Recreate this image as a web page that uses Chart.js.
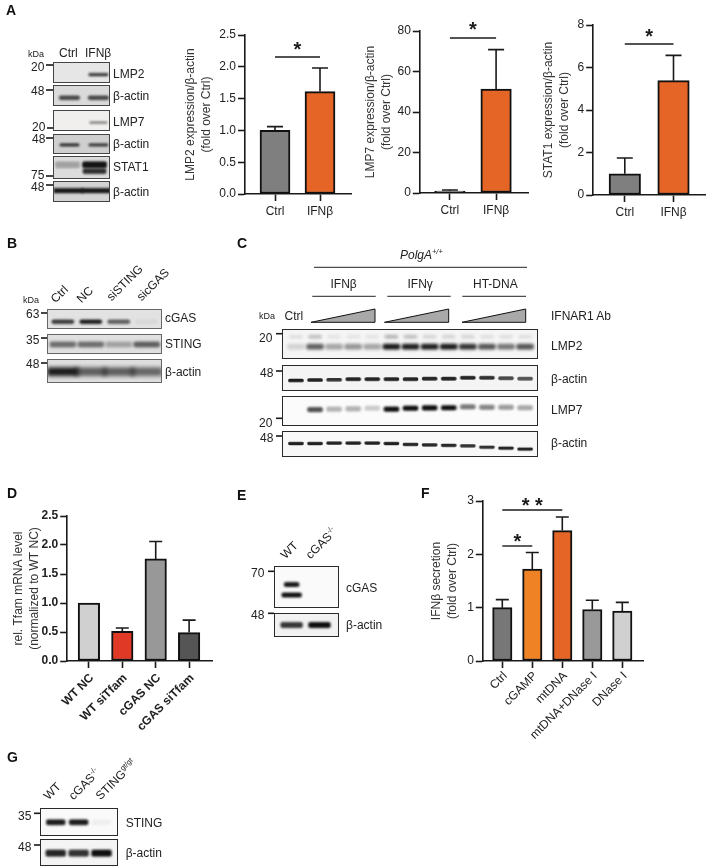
<!DOCTYPE html>
<html>
<head>
<meta charset="utf-8">
<title>Figure</title>
<script src="https://cdn.jsdelivr.net/npm/chart.js@4"></script>
<style>
  html, body { margin: 0; padding: 0; background: #fff; }
  #page { position: relative; width: 709px; height: 868px; overflow: hidden; font-family: "Liberation Sans", Arial, sans-serif; color: #222; filter: blur(0.3px); }
  #page canvas { position: absolute; display: block; }
  #page svg { position: absolute; left: 0; top: 0; }
  .t { position: absolute; white-space: nowrap; line-height: 1; transform: translateY(-50%); }
  .rot { position: absolute; white-space: nowrap; line-height: 1; transform-origin: 0 100%; transform: rotate(-45deg); }
  .blot { box-sizing: border-box; border: 1.4px solid #2a2a2a; }
  sup { font-size: 0.62em; line-height: 0; }
</style>
</head>
<body>
<div id="page"></div>
<script>
// ---- bar chart data ----
const ctrlVsIfn = ['Ctrl', 'IFNβ'];

const lmp2Values = [1.0, 1.61];
const lmp2Errors = [1.06, 1.98];
const lmp2Ticks = [0, 0.5, 1, 1.5, 2, 2.5];
const lmp2Sig = [[0, 1, 2.16, '*']];

const lmp7Values = [1.0, 51.3];
const lmp7Errors = [1.5, 70.8];
const lmp7Ticks = [0, 20, 40, 60, 80];
const lmp7Sig = [[0, 1, 76.6, '*']];

const stat1Values = [1.0, 5.38];
const stat1Errors = [1.74, 6.57];
const stat1Ticks = [0, 2, 4, 6, 8];
const stat1Sig = [[0, 1, 7.12, '*']];

const tfamLabels = ['WT NC', 'WT siTfam', 'cGAS NC', 'cGAS siTfam'];
const tfamValues = [1.0, 0.51, 1.76, 0.49];
const tfamErrors = [1.0, 0.57, 2.06, 0.705];
const tfamTicks = [0, 0.5, 1, 1.5, 2, 2.5];
const tfamColors = ['#d0d0d0', '#e03a27', '#989898', '#555555'];

const ifnLabels = ['Ctrl', 'cGAMP', 'mtDNA', 'mtDNA+DNase I', 'DNase I'];
const ifnValues = [1.0, 1.725, 2.445, 0.965, 0.935];
const ifnErrors = [1.15, 2.035, 2.70, 1.14, 1.10];
const ifnTicks = [0, 1, 2, 3];
const ifnSig = [[0, 1, 2.16, '*'], [0, 2, 2.84, '* *']];
const ifnColors = ['#777777', '#ef8225', '#e56526', '#999999', '#d0d0d0'];

const pairColors = ['#7f7f7f', '#e56526'];

// ---- blot band darkness per lane (0 = nothing, 1 = black) ----
const aLmp2 = [0, 0.8];
const aActin1 = [0.72, 0.72];
const aLmp7 = [0, 0.45];
const aActin2 = [0.72, 0.68];
const aStat1Upper = [0.28, 0.98];
const aStat1Lower = [0, 0.85];
const aActin3 = [0.95, 0.95];

const bCgas = [0.78, 0.92, 0.62, 0.05];
const bSting = [0.55, 0.55, 0.3, 0.62];
const bActin = [0.95, 0.62, 0.62, 0.58];

const cLmp2 = [0.15, 0.65, 0.35, 0.42, 0.35, 0.98, 0.95, 0.95, 0.97, 0.85, 0.7, 0.55, 0.7];
const cLmp2Upper = [0.1, 0.25, 0.08, 0.08, 0.08, 0.3, 0.25, 0.15, 0.15, 0.15, 0.1, 0.1, 0.1];
const cActin1 = [0.95, 0.92, 0.85, 0.9, 0.9, 0.9, 0.9, 0.9, 0.92, 0.9, 0.85, 0.75, 0.7];
const cActin1Drift = [1.5, 1, 0.7, 0, 0, 0, 0, -0.5, -0.5, -1.5, -1.5, -1, -0.5];
const cLmp7 = [0, 0.72, 0.3, 0.3, 0.2, 1, 1, 1, 1, 0.55, 0.5, 0.4, 0.35];
const cLmp7Drift = [0, 1.5, 1, 0.7, 0, 1, 0, -0.3, -0.5, -1.5, -1, -1, -0.5];
const cActin2 = [0.92, 0.92, 0.92, 0.92, 0.92, 0.92, 0.9, 0.9, 0.9, 0.85, 0.85, 0.9, 0.9];
const cActin2Drift = [-1, -1, -1.5, -1.5, -1.5, -1, 0, 0.5, 1, 1.5, 3, 4, 5];

const eCgasUpper = [0.95, 0];
const eCgasLower = [0.98, 0];
const eActin = [0.82, 1];

const gSting = [0.95, 0.95, 0.05];
const gActin = [0.9, 0.85, 1];

// ---- plugins ----
const errorBars = {
  id: 'errorBars',
  afterDatasetsDraw(chart, args, opts) {
    const { ctx, scales } = chart;
    ctx.save();
    ctx.strokeStyle = '#1a1a1a';
    ctx.lineWidth = 1.6;
    opts.tops.forEach((top, i) => {
      const x = scales.x.getPixelForValue(i);
      const y0 = scales.y.getPixelForValue(opts.values[i]);
      const y1 = scales.y.getPixelForValue(top);
      if (top <= opts.values[i]) return;
      ctx.beginPath();
      ctx.moveTo(x, y0); ctx.lineTo(x, y1);
      ctx.moveTo(x - opts.cap, y1); ctx.lineTo(x + opts.cap, y1);
      ctx.stroke();
    });
    ctx.restore();
  }
};

const sigBrackets = {
  id: 'sigBrackets',
  afterDraw(chart, args, opts) {
    const { ctx, scales } = chart;
    (opts.items || []).forEach(([from, to, value, stars]) => {
      const x0 = scales.x.getPixelForValue(from);
      const x1 = scales.x.getPixelForValue(to);
      const y = Math.round(scales.y.getPixelForValue(value));
      ctx.save();
      ctx.strokeStyle = '#1a1a1a';
      ctx.lineWidth = 1.4;
      ctx.beginPath(); ctx.moveTo(x0, y); ctx.lineTo(x1, y); ctx.stroke();
      ctx.fillStyle = '#1a1a1a';
      ctx.font = 'bold 20px "Liberation Sans"';
      ctx.textAlign = 'center';
      ctx.textBaseline = 'alphabetic';
      ctx.fillText(stars, (x0 + x1) / 2, y - opts.gap + 10);
      ctx.restore();
    });
  }
};

const softBands = {
  id: 'softBands',
  beforeDatasetsDraw(chart, args, opts) { chart.ctx.save(); chart.ctx.filter = `blur(${opts.blur}px)`; },
  afterDatasetsDraw(chart) { chart.ctx.restore(); }
};

// ---- helpers ----
const page = document.getElementById('page');
const FONT = '"Liberation Sans", Arial, sans-serif';

function text(str, x, y, size, extra) {
  const el = document.createElement('div');
  el.className = 't';
  el.innerHTML = str;
  el.style.left = x + 'px';
  el.style.top = y + 'px';
  el.style.fontSize = size + 'px';
  Object.assign(el.style, extra || {});
  page.appendChild(el);
}

function slanted(str, x, y, size) {
  const el = document.createElement('div');
  el.className = 'rot';
  el.innerHTML = str;
  el.style.left = x + 'px';
  el.style.bottom = (868 - y) + 'px';
  el.style.fontSize = size + 'px';
  page.appendChild(el);
}

function barPanel(c) {
  const lh = 16, pad = 14;
  const left = c.titleX - lh / 2, top = c.yTop - pad;
  const W = c.axisEnd - left + 2, H = c.yBottom - top + c.xH;
  const cv = document.createElement('canvas');
  cv.width = W; cv.height = H;
  cv.style.left = left + 'px'; cv.style.top = top + 'px';
  page.appendChild(cv);
  const step = (c.c1 - c.c0) / (c.labels.length - 1);
  const tickFont = { family: FONT, size: 12, weight: c.bold ? 'bold' : 'normal' };
  new Chart(cv, {
    type: 'bar',
    data: {
      datasets: [{
        data: c.values.map((v, i) => ({ x: i, y: v })),
        backgroundColor: c.colors,
        borderColor: '#111',
        borderWidth: 2,
        borderSkipped: false,
        barThickness: c.barW,
        clip: false
      }]
    },
    plugins: [errorBars, sigBrackets],
    options: {
      responsive: false,
      animation: false,
      layout: { padding: { top: pad, right: 2, left: 0, bottom: 0 } },
      plugins: {
        legend: { display: false },
        tooltip: { enabled: false },
        errorBars: { tops: c.errors, values: c.values, cap: c.cap },
        sigBrackets: { items: c.sig || [], gap: c.starGap }
      },
      scales: {
        x: {
          type: 'linear',
          offset: false,
          min: -(c.c0 - c.axisX) / step,
          max: (c.axisEnd - c.c0) / step,
          afterBuildTicks(s) { s.ticks = c.labels.map((_, i) => ({ value: i })); },
          afterFit(s) { s.height = c.xH; s.paddingLeft = 0; s.paddingRight = 0; },
          border: { display: true, color: '#1a1a1a', width: 1.6 },
          grid: { display: true, offset: false, drawOnChartArea: false, drawTicks: true, tickLength: 7, tickWidth: 1.6, tickColor: '#1a1a1a' },
          ticks: {
            autoSkip: false,
            color: '#222',
            font: { family: FONT, size: 12, weight: c.bold ? 'bold' : 'normal' },
            padding: c.xPad === undefined ? 3 : c.xPad,
            labelOffset: c.rot ? 3 : 0,
            minRotation: c.rot || 0,
            maxRotation: c.rot || 0,
            callback: v => c.labels[v]
          }
        },
        y: {
          min: c.ticks[0],
          max: c.ticks[c.ticks.length - 1],
          afterBuildTicks(s) { s.ticks = c.ticks.map(v => ({ value: v })); },
          afterFit(s) { s.width = c.axisX - left; s.paddingTop = 0; s.paddingBottom = 0; },
          border: { display: true, color: '#1a1a1a', width: 1.6 },
          grid: { display: true, drawOnChartArea: false, drawTicks: true, tickLength: 6.5, tickWidth: 1.6, tickColor: '#1a1a1a' },
          ticks: { color: '#222', font: tickFont, padding: 2, callback: v => v.toFixed(c.decimals) },
          title: {
            display: true,
            text: c.title,
            color: '#333',
            padding: 0,
            font: { family: FONT, size: 12, lineHeight: lh / 12 }
          }
        }
      }
    }
  });
}

// a blot is a small bar chart: lanes on x, migration (px from the top of the membrane) on y
function blot(b) {
  const W = b.x1 - b.x0, H = b.y1 - b.y0;
  const cv = document.createElement('canvas');
  cv.className = 'blot';
  cv.width = W; cv.height = H;
  cv.style.left = b.x0 + 'px'; cv.style.top = b.y0 + 'px';
  cv.style.width = W + 'px'; cv.style.height = H + 'px';
  cv.style.background = b.bg;
  if (b.edge) cv.style.borderColor = b.edge;
  page.appendChild(cv);
  const n = b.bands[0].lanes.length;
  const step = (b.c1 - b.c0) / (n - 1);
  new Chart(cv, {
    type: 'bar',
    data: {
      datasets: b.bands.map(k => ({
        grouped: false,
        data: k.lanes.map((v, i) => {
          const y = k.y + (k.drift ? k.drift[i] : 0);
          return { x: i, y: [y - k.h / 2, y + k.h / 2] };
        }),
        backgroundColor: k.lanes.map(v => `rgba(15,15,15,${v})`),
        barThickness: k.w,
        borderRadius: k.r === undefined ? 2 : k.r,
        borderSkipped: false
      }))
    },
    plugins: [softBands],
    options: {
      responsive: false,
      animation: false,
      events: [],
      plugins: { legend: { display: false }, tooltip: { enabled: false }, softBands: { blur: b.blur || 1 } },
      scales: {
        x: { type: 'linear', offset: false, grid: { offset: false }, display: false, min: (b.x0 - b.c0) / step, max: (b.x1 - b.c0) / step },
        y: { display: false, reverse: true, min: 0, max: H }
      }
    }
  });
}

function weight(label, right, yText, tx0, tx1, yTick) {
  text(label, right - 14, yText, 12);
  const s = document.createElementNS('http://www.w3.org/2000/svg', 'rect');
  s.setAttribute('x', tx0); s.setAttribute('y', yTick - 0.8);
  s.setAttribute('width', tx1 - tx0); s.setAttribute('height', 1.6);
  s.setAttribute('fill', '#1a1a1a');
  overlay.appendChild(s);
}

function rule(x0, x1, y) {
  const s = document.createElementNS('http://www.w3.org/2000/svg', 'line');
  s.setAttribute('x1', x0); s.setAttribute('x2', x1); s.setAttribute('y1', y); s.setAttribute('y2', y);
  s.setAttribute('stroke', '#222'); s.setAttribute('stroke-width', 1);
  overlay.appendChild(s);
}

function wedge(x0, x1, y0, y1) {
  const s = document.createElementNS('http://www.w3.org/2000/svg', 'polygon');
  s.setAttribute('points', `${x0},${y1} ${x1},${y0} ${x1},${y1}`);
  s.setAttribute('fill', '#a9a9a9'); s.setAttribute('stroke', '#111'); s.setAttribute('stroke-width', 1);
  overlay.appendChild(s);
}

const overlay = document.createElementNS('http://www.w3.org/2000/svg', 'svg');
overlay.setAttribute('width', 709); overlay.setAttribute('height', 868);
page.appendChild(overlay);

// ---- panel letters ----
[['A', 6, 10], ['B', 7, 243], ['C', 237, 243], ['D', 7, 493], ['E', 237, 495], ['F', 421, 493], ['G', 7, 757]]
  .forEach(([l, x, y]) => text(l, x, y, 14, { fontWeight: 'bold', color: '#111' }));

// ---- panel A ----
text('kDa', 28, 54, 9);
text('Ctrl', 59, 53, 12);
text('IFNβ', 85, 53, 12);
blot({ x0: 53, x1: 110, y0: 62, y1: 82.5, bg: '#e6e6e6', edge: '#444', c0: 69, c1: 99, bands: [{ lanes: aLmp2, y: 12.5, h: 3, w: 20 }] });
blot({ x0: 53, x1: 110, y0: 85, y1: 106, bg: '#dadada', edge: '#444', c0: 69, c1: 99, bands: [{ lanes: aActin1, y: 13, h: 4.5, w: 21 }] });
blot({ x0: 53, x1: 110, y0: 109.5, y1: 131, bg: '#f1efed', edge: '#444', c0: 69, c1: 99, bands: [{ lanes: aLmp7, y: 13, h: 2.5, w: 18 }] });
blot({ x0: 53, x1: 110, y0: 134, y1: 154, bg: '#cfcfcf', edge: '#444', c0: 69, c1: 99, bands: [{ lanes: aActin2, y: 11, h: 3.5, w: 20 }] });
blot({ x0: 53, x1: 110, y0: 156, y1: 179, bg: '#dcdcdc', edge: '#444', c0: 67, c1: 95, bands: [{ lanes: aStat1Upper, y: 8.5, h: 7, w: 25 }, { lanes: aStat1Lower, y: 15.5, h: 5.5, w: 24 }] });
blot({ x0: 53, x1: 110, y0: 181, y1: 202, bg: '#d4d4d4', edge: '#444', c0: 68, c1: 97, bands: [{ lanes: aActin3, y: 9.5, h: 5, w: 30, r: 0 }] });
[['LMP2', 74], ['β-actin', 96], ['LMP7', 122], ['β-actin', 144], ['STAT1', 167], ['β-actin', 192]]
  .forEach(([l, y]) => text(l, 113, y, 12));
[['20', 45, 67, 46, 53, 65], ['48', 45, 91, 46, 53, 90], ['20', 46, 127, 47, 53, 128], ['48', 46, 139, 46, 53, 138], ['75', 45, 175, 46, 53, 176], ['48', 45, 187, 46, 53, 185]]
  .forEach(w => weight(...w));

barPanel({ labels: ctrlVsIfn, values: lmp2Values, errors: lmp2Errors, ticks: lmp2Ticks, sig: lmp2Sig, colors: pairColors, decimals: 1,
  title: ['LMP2 expression/β-actin', '(fold over Ctrl)'], titleX: 191, axisX: 244.5, axisEnd: 351, yTop: 34.7, yBottom: 194.3, xH: 26, c0: 275, c1: 320, barW: 30, cap: 8, starGap: 10.6 });
barPanel({ labels: ctrlVsIfn, values: lmp7Values, errors: lmp7Errors, ticks: lmp7Ticks, sig: lmp7Sig, colors: pairColors, decimals: 0,
  title: ['LMP7 expression/β-actin', '(fold over Ctrl)'], titleX: 370.7, axisX: 419, axisEnd: 528, yTop: 31.3, yBottom: 194, xH: 26, c0: 449.7, c1: 496, barW: 30.5, cap: 8, starGap: 11.6 });
barPanel({ labels: ctrlVsIfn, values: stat1Values, errors: stat1Errors, ticks: stat1Ticks, sig: stat1Sig, colors: pairColors, decimals: 0,
  title: ['STAT1 expression/β-actin', '(fold over Ctrl)'], titleX: 549, axisX: 592.7, axisEnd: 705, yTop: 24.7, yBottom: 194.7, xH: 26, c0: 624.8, c1: 673.5, barW: 31.5, cap: 8, starGap: 11.3 });

// ---- panel B ----
text('kDa', 23, 300, 9);
[['Ctrl', 57, 305], ['NC', 83, 305], ['siSTING', 113, 303], ['sicGAS', 143, 303]].forEach(([l, x, y]) => slanted(l, x, y, 12));
blot({ x0: 47, x1: 161.5, y0: 309, y1: 329, bg: '#e2e2e2', edge: '#666', c0: 62, c1: 147, bands: [{ lanes: bCgas, y: 13, h: 4.5, w: 22 }] });
blot({ x0: 47, x1: 161.5, y0: 333.5, y1: 353.5, bg: '#e0e0e0', edge: '#666', blur: 1.5, c0: 62, c1: 147, bands: [{ lanes: bSting, y: 10.5, h: 6, w: 26 }] });
blot({ x0: 47, x1: 161.5, y0: 358.5, y1: 383, bg: '#dedede', edge: '#666', blur: 2, c0: 62, c1: 147, bands: [{ lanes: bActin, y: 13, h: 9, w: 31, r: 0 }] });
[['cGAS', 318], ['STING', 344], ['β-actin', 372]].forEach(([l, y]) => text(l, 165, y, 12));
[['63', 40, 314, 41, 47, 313], ['35', 40, 340, 41, 47, 338], ['48', 40, 364, 41, 47, 363]].forEach(w => weight(...w));

// ---- panel C ----
text('PolgA<sup>+/+</sup>', 400, 255, 12, { fontStyle: 'italic' });
rule(314, 527, 267.3);
text('IFNβ', 330.5, 284, 12);
text('IFNγ', 407.5, 284, 12);
text('HT-DNA', 473, 284, 12);
rule(312.3, 375.7, 296.3);
rule(387.3, 450.7, 296.3);
rule(462.3, 526, 296.3);
wedge(311, 375, 309, 322.3);
wedge(384.5, 448.7, 309, 322.3);
wedge(462, 525.7, 309, 322.3);
text('kDa', 259, 316, 9);
text('Ctrl', 284.5, 316, 12);
text('IFNAR1 Ab', 551, 316, 12);
blot({ x0: 282, x1: 538, y0: 329, y1: 358.5, bg: '#f5f5f5', blur: 1.5, c0: 295, c1: 526, bands: [
  { lanes: cLmp2Upper, y: 7, h: 3, w: 13 }, { lanes: cLmp2, y: 17.5, h: 5.5, w: 17 }] });
blot({ x0: 282, x1: 538, y0: 364.5, y1: 391, bg: '#f4f4f4', blur: 0.6, c0: 295, c1: 526, bands: [{ lanes: cActin1, drift: cActin1Drift, y: 14.5, h: 3.2, w: 15 }] });
blot({ x0: 282, x1: 538, y0: 395.5, y1: 425.5, bg: '#fbfbfb', blur: 1, c0: 295, c1: 526, bands: [{ lanes: cLmp7, drift: cLmp7Drift, y: 12, h: 5, w: 15 }] });
blot({ x0: 282, x1: 538, y0: 431, y1: 457, bg: '#f8f8f8', blur: 0.6, c0: 295, c1: 526, bands: [{ lanes: cActin2, drift: cActin2Drift, y: 13.5, h: 2.8, w: 15 }] });
[['LMP2', 346], ['β-actin', 379], ['LMP7', 409.5], ['β-actin', 443]].forEach(([l, y]) => text(l, 551, y, 12));
[['20', 273, 338, 276, 282, 333.7], ['48', 274, 373, 276, 282, 371], ['20', 273, 423, 276, 282, 418.3], ['48', 274, 438, 276, 282, 436]].forEach(w => weight(...w));

// ---- panel D ----
barPanel({ labels: tfamLabels, values: tfamValues, errors: tfamErrors, ticks: tfamTicks, colors: tfamColors, decimals: 1, bold: true, rot: 45, xPad: 3,
  title: ['rel. Tfam mRNA level', '(normalized to WT NC)'], titleX: 19, axisX: 66.7, axisEnd: 212.7, yTop: 515.7, yBottom: 661, xH: 70, c0: 89, c1: 189.7, barW: 21.5, cap: 6.5, starGap: 8 });

// ---- panel E ----
[['WT', 286.7, 561], ['cGAS<sup>-/-</sup>', 311.7, 561]].forEach(([l, x, y]) => slanted(l, x, y, 12));
blot({ x0: 274, x1: 338.5, y0: 566, y1: 608, bg: '#fafafa', blur: 0.9, c0: 291, c1: 319.5, bands: [
  { lanes: eCgasUpper, y: 18.3, h: 4.5, w: 15 }, { lanes: eCgasLower, y: 29.3, h: 4.5, w: 20 }] });
blot({ x0: 274, x1: 338.5, y0: 612.5, y1: 637, bg: '#f2f2f2', c0: 291, c1: 319.5, bands: [{ lanes: eActin, y: 12.3, h: 6, w: 22 }] });
text('cGAS', 346, 588, 12);
text('β-actin', 346, 625, 12);
[['70', 265, 573, 268, 274, 571.3], ['48', 265, 615, 268, 274, 613.3]].forEach(w => weight(...w));

// ---- panel F ----
barPanel({ labels: ifnLabels, values: ifnValues, errors: ifnErrors, ticks: ifnTicks, sig: ifnSig, colors: ifnColors, decimals: 0, rot: 45, xPad: 1,
  title: ['IFNβ secretion', '(fold over Ctrl)'], titleX: 436.7, axisX: 482, axisEnd: 642.7, yTop: 501, yBottom: 661.7, xH: 86, c0: 502, c1: 622, barW: 19.4, cap: 6.5, starGap: 7.6 });

// ---- panel G ----
[['WT', 50, 801.7], ['cGAS<sup>-/-</sup>', 75, 801.7], ['STING<sup>gt/gt</sup>', 101.7, 801.7]].forEach(([l, x, y]) => slanted(l, x, y, 12));
blot({ x0: 40, x1: 117.5, y0: 808.3, y1: 836, bg: '#fafafa', blur: 1, c0: 55, c1: 101.7, bands: [{ lanes: gSting, y: 14, h: 5.5, w: 19 }] });
blot({ x0: 40, x1: 117.5, y0: 839.3, y1: 866, bg: '#f4f4f4', blur: 1, c0: 55, c1: 101.7, bands: [{ lanes: gActin, y: 14, h: 7, w: 20 }] });
text('STING', 125.7, 822.7, 12);
text('β-actin', 125.7, 853.3, 12);
[['35', 32, 815.7, 34, 40, 813.3], ['48', 32, 846.7, 34, 40, 845]].forEach(w => weight(...w));
</script>
</body>
</html>
